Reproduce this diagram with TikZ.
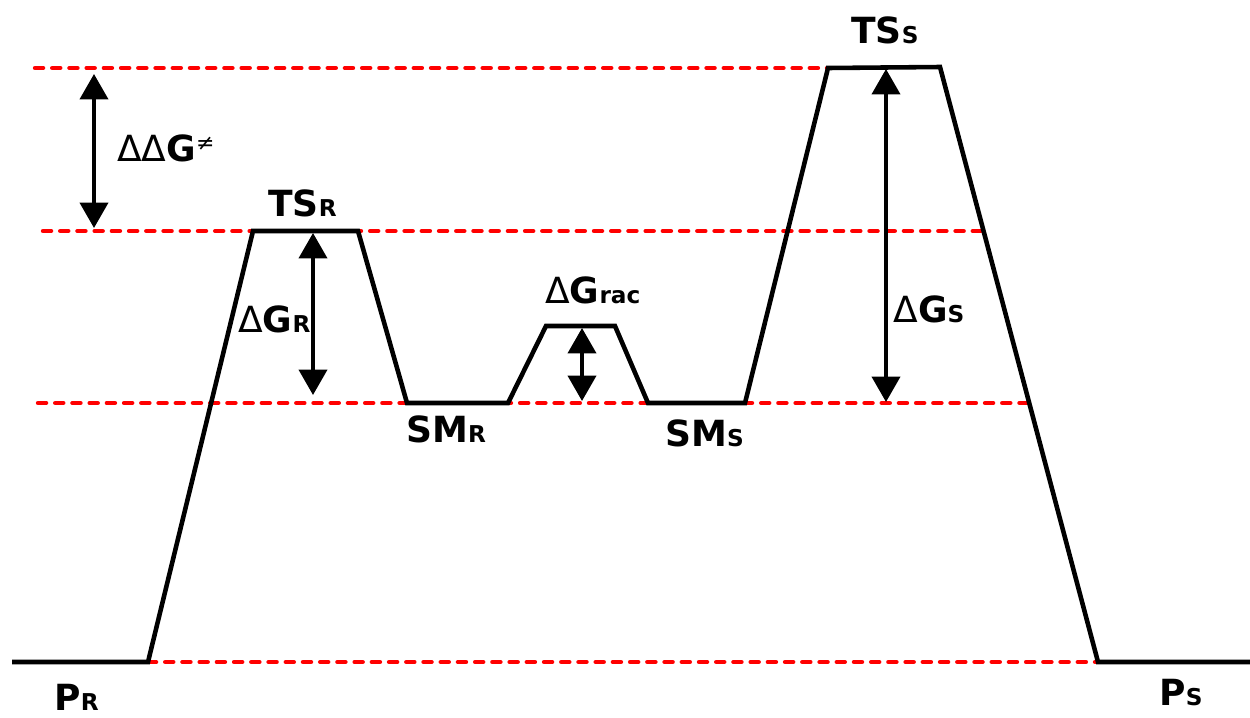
\documentclass[tikz,border=0pt]{standalone}
\usepackage{fontspec}
\setmainfont{DejaVu Sans}
\usetikzlibrary{arrows.meta}
% font sizes for state labels and their subscripts
\newcommand\bigf{\fontsize{20.5}{22}\selectfont}
\newcommand\subf{\fontsize{13.2}{14}\selectfont}
\newcommand\dlt{{\mdseries Δ}}
\tikzset{
  level/.style={draw=red, line width=2.5pt, dash pattern=on 4.6pt off 5.2pt, line cap=round},
  profile/.style={draw=black, line width=2.6pt, line join=miter},
  gap/.style={draw=black, line width=2.2pt,
    {Triangle[width=16pt,length=14.5pt]}-{Triangle[width=16pt,length=14.5pt]}},
  lbl/.style={anchor=base west, inner sep=0pt, font=\bigf\bfseries}
}
\begin{document}
\begin{tikzpicture}[x=0.02cm,y=-0.02cm]
\useasboundingbox[fill=white] (0,0) rectangle (1250,717);

% vertices of the energy profile
\coordinate (p0) at (12,662);
\coordinate (p1) at (148,662);
\coordinate (p2) at (253,231);
\coordinate (p3) at (358,231);
\coordinate (p4) at (407,403);
\coordinate (p5) at (508,403);
\coordinate (p6) at (546,326);
\coordinate (p7) at (615,326);
\coordinate (p8) at (648,403);
\coordinate (p9) at (745,403);
\coordinate (p10) at (828,68);
\coordinate (p11) at (940,67);
\coordinate (p12) at (1098,662);
\coordinate (p13) at (1250,662);

% reference energy levels
\coordinate (l1a) at (35,68);  \coordinate (l1b) at (828,68);
\coordinate (l2a) at (43,231); \coordinate (l2b) at (983,231);
\coordinate (l3a) at (38,403); \coordinate (l3b) at (1028,403);
\draw[level] (l1a) -- (l1b);
\draw[level] (l2a) -- (l2b);
\draw[level] (l3a) -- (l3b);
\draw[level] (p1) -- (p12);

% profile
\draw[profile] (p0) -- (p1) -- (p2) -- (p3) -- (p4) -- (p5) -- (p6) -- (p7)
  -- (p8) -- (p9) -- (p10) -- (p11) -- (p12) -- (p13);

% energy differences
\coordinate (a1t) at (94,74);   \coordinate (a1b) at (94,228);
\coordinate (a2t) at (313,233); \coordinate (a2b) at (313,395);
\coordinate (a3t) at (582,328); \coordinate (a3b) at (582,401);
\coordinate (a4t) at (886,69);  \coordinate (a4b) at (886,402);
\draw[gap] (a1t) -- (a1b);
\draw[gap] (a2t) -- (a2b);
\draw[gap] (a3t) -- (a3b);
\draw[gap] (a4t) -- (a4b);

% labels
\node[lbl] (ddg) at (117,161) {\dlt\dlt G\raisebox{6pt}{\fontsize{12.5}{13}\selectfont\mdseries ≠}};
\node[lbl] (tsr) at (268,216) {TS\subf R};
\node[lbl] (dgr) at (238,332) {\dlt G\subf R};
\node[lbl] (smr) at (406,442) {SM\subf R};
\node[lbl] (dgrac) at (545,303) {\dlt G\subf rac};
\node[lbl] (sms) at (665,446) {SM\subf S};
\node[lbl] (tss) at (851,43) {TS\subf S};
\node[lbl] (dgs) at (893,322) {\dlt G\subf S};
\node[lbl] (pr) at (54,710) {P\subf R};
\node[lbl] (ps) at (1159,705) {P\subf S};
\end{tikzpicture}
\end{document}
